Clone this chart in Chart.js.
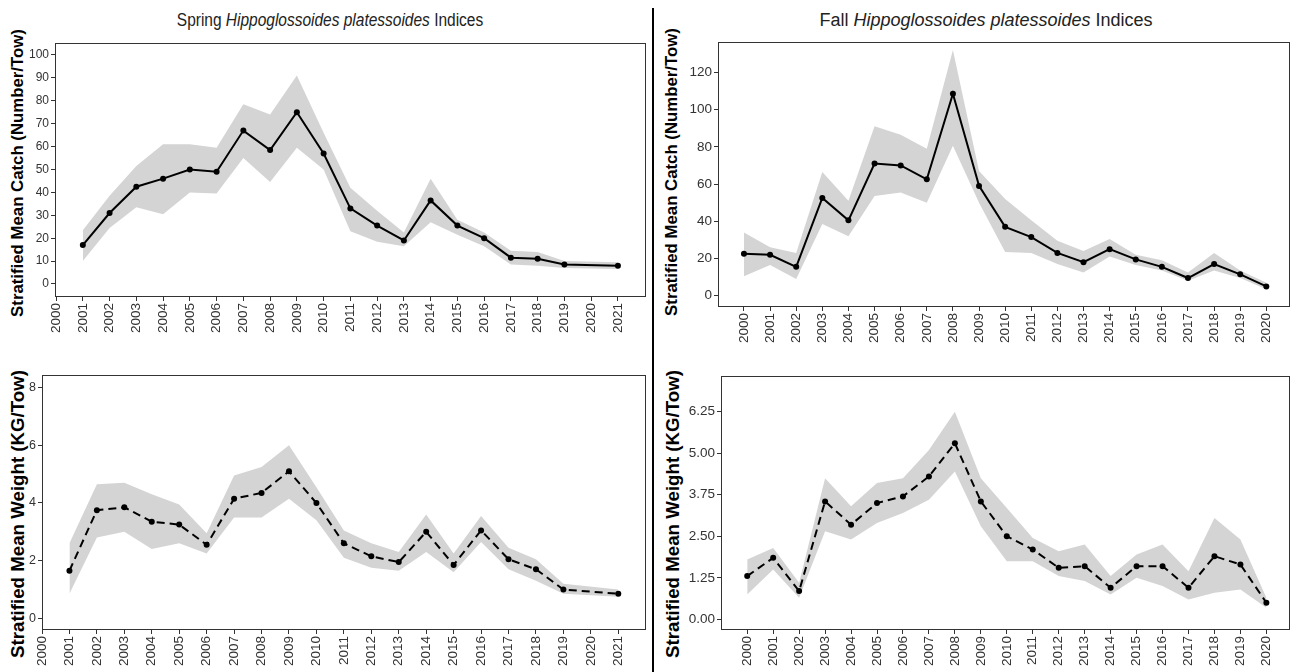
<!DOCTYPE html>
<html>
<head>
<meta charset="utf-8">
<script src="https://cdn.jsdelivr.net/npm/chart.js@4.4.0/dist/chart.umd.min.js"></script>
<style>
  body { margin: 0; background: #fff; width: 1294px; height: 672px; position: relative; overflow: hidden; font-family: "Liberation Sans", Arial, sans-serif; }
  canvas { position: absolute; }
  .title { position: absolute; font-size: 18px; color: #222; white-space: nowrap; transform: translate(-50%, -50%); }
  .ylab { position: absolute; font-weight: bold; color: #000; white-space: nowrap; transform: translate(-50%, -50%) rotate(-90deg); }
  #sep { position: absolute; left: 652px; top: 8px; width: 2px; height: 664px; background: #000; }
</style>
</head>
<body>
<div class="title" style="left:330px;top:20px;transform:translate(-50%, -50%) scaleX(0.86)">Spring <i>Hippoglossoides platessoides</i> Indices</div>
<div class="title" style="left:986px;top:20px">Fall <i>Hippoglossoides platessoides</i> Indices</div>
<div id="sep"></div>
<div class="ylab" style="left:18px;top:173px;font-size:16.8px">Stratified Mean Catch (Number/Tow)</div>
<div class="ylab" style="left:672px;top:172px;font-size:16.8px">Stratified Mean Catch (Number/Tow)</div>
<div class="ylab" style="left:18px;top:514px;font-size:18.7px">Stratified Mean Weight (KG/Tow)</div>
<div class="ylab" style="left:673px;top:514px;font-size:18.7px">Stratified Mean Weight (KG/Tow)</div>

<canvas id="springCatch" width="650" height="315" style="left:0px;top:30px"></canvas>
<canvas id="fallCatch" width="638" height="315" style="left:656px;top:30px"></canvas>
<canvas id="springWeight" width="650" height="327" style="left:0px;top:345px"></canvas>
<canvas id="fallWeight" width="638" height="327" style="left:656px;top:345px"></canvas>

<script>
const springYears = [2000, 2001, 2002, 2003, 2004, 2005, 2006, 2007, 2008, 2009, 2010,
  2011, 2012, 2013, 2014, 2015, 2016, 2017, 2018, 2019, 2020, 2021];
const fallYears = [2000, 2001, 2002, 2003, 2004, 2005, 2006, 2007, 2008, 2009, 2010,
  2011, 2012, 2013, 2014, 2015, 2016, 2017, 2018, 2019, 2020];

// spring survey (no 2000 or 2020 survey)
const springCatch = [null, 17, 31, 42.5, 46, 50, 49, 67, 58.5, 75, 57, 33, 25.5, 19, 36.5, 25.5, 20, 11.5, 11, 8.5, null, 8];
const springCatchLo = [null, 10, 24.5, 33.5, 30.5, 40, 39.5, 55, 44.5, 59.5, 50, 23, 18.5, 16.5, 27, 21.5, 16.5, 8.5, 8, 7, null, 6.5];
const springCatchHi = [null, 23.5, 38.5, 51.5, 61, 61, 59.5, 78.5, 74, 91, 66, 42, 32, 22.5, 46, 28, 22.5, 14.5, 14, 10, null, 9.5];

const springWeight = [null, 1.65, 3.75, 3.85, 3.35, 3.25, 2.55, 4.15, 4.35, 5.1, 4.0, 2.6, 2.15, 1.95, 3.0, 1.85, 3.05, 2.05, 1.7, 1.0, null, 0.85];
const springWeightLo = [null, 0.85, 2.8, 3.0, 2.4, 2.6, 2.25, 3.5, 3.5, 4.15, 3.4, 2.1, 1.75, 1.65, 2.3, 1.6, 2.65, 1.7, 1.3, 0.85, null, 0.75];
const springWeightHi = [null, 2.6, 4.65, 4.7, 4.3, 3.95, 2.95, 4.95, 5.25, 6.0, 4.55, 3.05, 2.6, 2.3, 3.6, 2.25, 3.55, 2.45, 2.05, 1.2, null, 1.0];

// fall survey
const fallCatch = [22.5, 22, 15.5, 52.5, 40.5, 71, 70, 62.5, 108.5, 59, 37, 31.5, 23, 18, 25, 19.5, 15.5, 9.5, 17, 11.5, 5];
const fallCatchLo = [10.5, 16.5, 9, 38.5, 32, 53.5, 55.5, 50, 80.5, 50, 23.5, 23, 17, 12.5, 21, 16.5, 13.5, 8, 13.5, 9.5, 3.5];
const fallCatchHi = [34, 26, 23, 66.5, 51, 91, 86.5, 79, 132, 67, 52, 40.5, 29.5, 24, 30.5, 22, 19, 12.5, 23, 13.5, 7];

const fallWeight = [1.3, 1.85, 0.85, 3.55, 2.85, 3.5, 3.7, 4.3, 5.3, 3.55, 2.5, 2.1, 1.55, 1.6, 0.95, 1.6, 1.6, 0.95, 1.9, 1.65, 0.5];
const fallWeightLo = [0.75, 1.5, 0.65, 2.65, 2.4, 2.9, 3.2, 3.6, 4.45, 2.8, 1.75, 1.75, 1.3, 1.15, 0.75, 1.25, 1.0, 0.6, 0.8, 0.9, 0.35];
const fallWeightHi = [1.8, 2.15, 1.1, 4.25, 3.4, 4.1, 4.25, 5.1, 6.25, 4.25, 3.35, 2.45, 2.05, 2.25, 1.3, 1.95, 2.25, 1.45, 3.05, 2.4, 0.65];

// y tick labels
const springCatchTicks = [0, 10, 20, 30, 40, 50, 60, 70, 80, 90, 100];
const fallCatchTicks = [0, 20, 40, 60, 80, 100, 120];
const springWeightTicks = [0, 2, 4, 6, 8];
const fallWeightTicks = [0, 1.25, 2.5, 3.75, 5, 6.25];

Chart.defaults.font.family = '"Liberation Sans", Arial, sans-serif';

const boxPlugin = {
  id: "box",
  afterDraw(chart) {
    const { ctx, chartArea: a } = chart;
    ctx.save();
    ctx.strokeStyle = "#333";
    ctx.lineWidth = 1;
    ctx.strokeRect(Math.round(a.left) + 0.5, Math.round(a.top) + 0.5,
      Math.round(a.right - a.left) - 1, Math.round(a.bottom - a.top) - 1);
    ctx.restore();
  }
};

function toPoints(years, values) {
  const pts = [];
  years.forEach((year, i) => {
    if (values[i] !== null) pts.push({ x: year, y: values[i] });
  });
  return pts;
}

function makePanel(id, cfg) {
  const context = document.getElementById(id).getContext("2d");
  return new Chart(context, {
    type: "line",
    data: {
      datasets: [
        // index line first so it is painted last, over the band
        { data: toPoints(cfg.years, cfg.values), fill: false, borderColor: "#000", borderWidth: 2,
          borderDash: cfg.dash, pointRadius: 3, pointBackgroundColor: "#000", pointBorderWidth: 0,
          tension: 0 },
        { data: toPoints(cfg.years, cfg.hi), fill: "+1", backgroundColor: "#d4d4d4",
          borderWidth: 0, pointRadius: 0, tension: 0 },
        { data: toPoints(cfg.years, cfg.lo), fill: false, borderWidth: 0, pointRadius: 0, tension: 0 }
      ]
    },
    options: {
      responsive: false,
      animation: false,
      devicePixelRatio: 1,
      layout: { padding: cfg.padding },
      plugins: { legend: { display: false }, tooltip: { enabled: false } },
      scales: {
        x: {
          type: "linear",
          bounds: "data",
          min: cfg.xMin,
          max: cfg.xMax,
          afterBuildTicks: (scale) => { scale.ticks = cfg.years.map((v) => ({ value: v })); },
          afterFit: (scale) => { scale.height = cfg.xHeight; },
          grid: { drawOnChartArea: false, drawTicks: true, tickLength: 4, color: "#333" },
          border: { display: false },
          ticks: {
            autoSkip: false, minRotation: 90, maxRotation: 90, padding: 2,
            color: "#333", font: { size: 13.5 },
            callback: (value) => String(value)
          }
        },
        y: {
          type: "linear",
          bounds: "data",
          min: cfg.yMin,
          max: cfg.yMax,
          afterBuildTicks: (scale) => { scale.ticks = cfg.yTicks.map((v) => ({ value: v })); },
          afterFit: (scale) => { scale.width = cfg.yWidth; },
          grid: { drawOnChartArea: false, drawTicks: true, tickLength: 4, color: "#333" },
          border: { display: false },
          ticks: {
            padding: 2, color: "#333", font: { size: cfg.tickSize },
            callback: (value) => cfg.fmt(value)
          }
        }
      }
    },
    plugins: [boxPlugin]
  });
}

makePanel("springCatch", {
  years: springYears, values: springCatch, lo: springCatchLo, hi: springCatchHi, dash: [],
  xMin: 1999.96, xMax: 2022.05, yMin: -5.68, yMax: 105.24, yTicks: springCatchTicks, tickSize: 12,
  fmt: (v) => String(v), padding: { left: 0, top: 13, right: 4, bottom: 0 }, yWidth: 55, xHeight: 48
});
makePanel("fallCatch", {
  years: fallYears, values: fallCatch, lo: fallCatchLo, hi: fallCatchHi, dash: [],
  xMin: 1999.006, xMax: 2020.906, yMin: -6.07, yMax: 136.3, yTicks: fallCatchTicks, tickSize: 13.5,
  fmt: (v) => String(v), padding: { left: 0, top: 12, right: 3, bottom: 0 }, yWidth: 62, xHeight: 38
});
makePanel("springWeight", {
  years: springYears, values: springWeight, lo: springWeightLo, hi: springWeightHi, dash: [8, 5],
  xMin: 2000, xMax: 2022.01, yMin: -0.406, yMax: 8.44, yTicks: springWeightTicks, tickSize: 12.5,
  fmt: (v) => String(v), padding: { left: 0, top: 30, right: 4, bottom: 0 }, yWidth: 42, xHeight: 42
});
makePanel("fallWeight", {
  years: fallYears, values: fallWeight, lo: fallWeightLo, hi: fallWeightHi, dash: [8, 5],
  xMin: 1998.99, xMax: 2020.91, yMin: -0.322, yMax: 7.325, yTicks: fallWeightTicks, tickSize: 13.5,
  fmt: (v) => v.toFixed(2), padding: { left: 0, top: 31, right: 3, bottom: 0 }, yWidth: 65, xHeight: 42
});
</script>
</body>
</html>
